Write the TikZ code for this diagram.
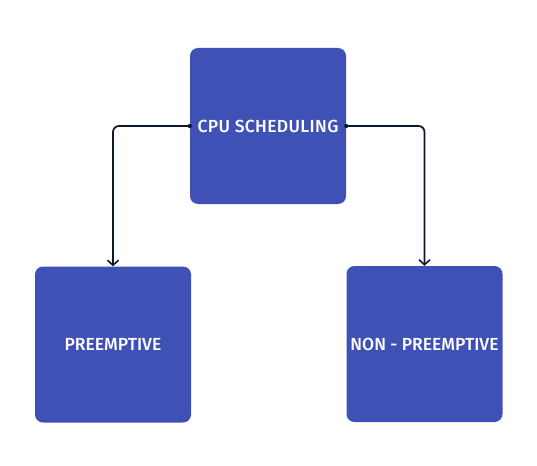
\documentclass[tikz,border=0pt]{standalone}
\usepackage{fontspec}
\setmainfont{Fira Sans}[UprightFont=* Medium]
\usetikzlibrary{arrows.meta}
\definecolor{boxblue}{HTML}{3F51B5}
\definecolor{linenavy}{HTML}{0B1A2A}
\tikzset{
    box/.style={fill=boxblue, rounded corners=8pt, minimum width=156pt, minimum height=156pt, inner sep=0pt, text=white, font=\fontsize{17.5}{20}\selectfont},
    conn/.style={draw=linenavy, line width=1.7pt, rounded corners=6pt, -{Straight Barb[length=5pt,width=11pt,line width=1.6pt]}}
}
\begin{document}
\begin{tikzpicture}[x=1pt,y=-1pt]
    \useasboundingbox (0,0) rectangle (537,465);
    
    \node[box] (cpu) at (268,126) {\addfontfeature{LetterSpace=2}CPU SCHEDULING};
    \node[box] (pre) at (113,344.5) {PREEMPTIVE};
    \node[box] (non) at (424.5,344) {NON - PREEMPTIVE};
    
    \draw[conn] (cpu.west) -| (pre.north);
    \draw[conn] (cpu.east) -| (non.north);
    \fill[linenavy] (cpu.west) circle (2.1pt);
    \fill[linenavy] (cpu.east) circle (2.1pt);
    
\end{tikzpicture}
\end{document}
